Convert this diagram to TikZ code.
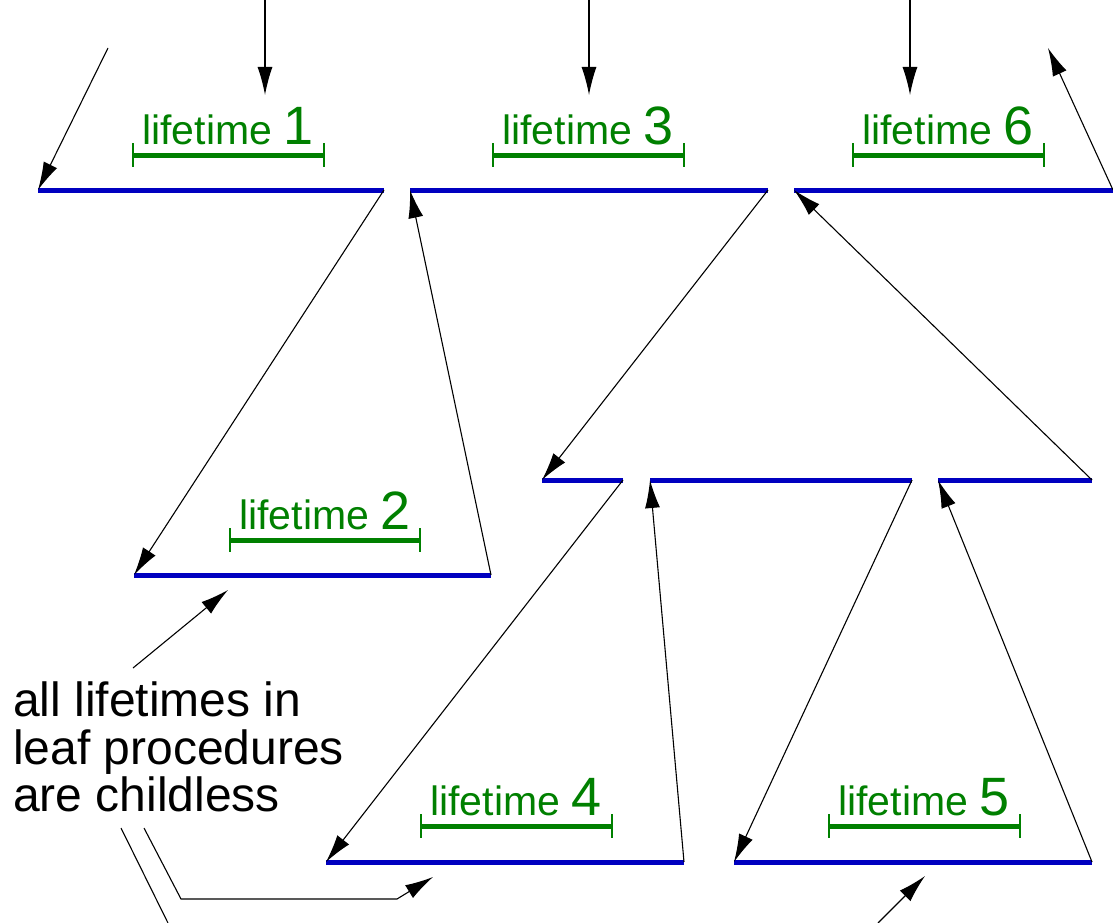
\documentclass[tikz,border=0pt]{standalone}
\usepackage{fontspec}
\setmainfont{Liberation Sans}
\usetikzlibrary{arrows.meta}
\definecolor{lblue}{RGB}{0,0,192}
\definecolor{lgreen}{RGB}{0,128,0}
\tikzset{
  life/.style={draw=lblue, line width=5pt},
  arr/.style={draw=black, line width=1.1pt, -{Latex[length=28pt,width=15pt]}},
  plain/.style={draw=black, line width=1.1pt},
  lbl/.style={text=lgreen, anchor=base, inner sep=0pt, font=\fontsize{41}{41}\selectfont},
}
\newcommand{\lt}[1]{lifetime {\fontsize{54}{54}\selectfont #1}}
\newcommand{\bracketbar}[3]{%
  \draw[lgreen, line width=5pt] (#1,#3) -- (#2,#3);
  \draw[lgreen, line width=2.5pt] (#1,#3-12) -- (#1,#3+12);
  \draw[lgreen, line width=2.5pt] (#2,#3-12) -- (#2,#3+12);}
\begin{document}
\begin{tikzpicture}[x=1pt,y=-1pt]
\useasboundingbox (0,0) rectangle (1113,923);
% lifetime line end points
\coordinate (l1a) at (38,190);  \coordinate (l1b) at (384,190);
\coordinate (l3a) at (410,190); \coordinate (l3b) at (768,190);
\coordinate (l6a) at (794,190); \coordinate (l6b) at (1113,190);
\coordinate (m1a) at (542,480); \coordinate (m1b) at (623,480);
\coordinate (m2a) at (650,480); \coordinate (m2b) at (912,480);
\coordinate (m3a) at (938,480); \coordinate (m3b) at (1092,480);
\coordinate (l2a) at (134,575); \coordinate (l2b) at (491,575);
\coordinate (l4a) at (326,862); \coordinate (l4b) at (684,862);
\coordinate (l5a) at (734,862); \coordinate (l5b) at (1092,862);
\foreach \a/\b in {l1a/l1b,l3a/l3b,l6a/l6b,m1a/m1b,m2a/m2b,m3a/m3b,l2a/l2b,l4a/l4b,l5a/l5b}
  \draw[life] (\a) -- (\b);
% green brackets and labels
\bracketbar{133}{324}{155}
\bracketbar{493}{684}{155}
\bracketbar{853}{1044}{155}
\bracketbar{230}{420}{540}
\bracketbar{421}{612}{826}
\bracketbar{829}{1020}{826}
\node[lbl] (t1) at (228,144) {\lt{1}};
\node[lbl] (t3) at (588,144) {\lt{3}};
\node[lbl] (t6) at (948,144) {\lt{6}};
\node[lbl] (t2) at (325,529) {\lt{2}};
\node[lbl] (t4) at (516,815) {\lt{4}};
\node[lbl] (t5) at (924,815) {\lt{5}};
% top arrows
\coordinate (s1) at (265,0);  \coordinate (e1) at (265,95);
\coordinate (s3) at (589,0);  \coordinate (e3) at (589,95);
\coordinate (s6) at (910,0);  \coordinate (e6) at (910,95);
\draw[arr] (s1) -- (e1);
\draw[arr] (s3) -- (e3);
\draw[arr] (s6) -- (e6);
\coordinate (in0) at (108,48);
\coordinate (out0) at (1048,48);
\draw[arr] (in0) -- (l1a);
\draw[arr] (l1b) -- (l2a);
\draw[arr] (l2b) -- (l3a);
\draw[arr] (l3b) -- (m1a);
\draw[arr] (m1b) -- (l4a);
\draw[arr] (l4b) -- (m2a);
\draw[arr] (m2b) -- (l5a);
\draw[arr] (l5b) -- (m3a);
\draw[arr] (m3b) -- (l6a);
\draw[arr] (l6b) -- (out0);
% annotation
\node[anchor=north west, inner sep=0pt, align=left,
      font=\fontsize{48}{47.5}\selectfont] (note) at (13,682)
  {all lifetimes in\\leaf procedures\\are childless};
\coordinate (n1) at (133,668); \coordinate (n1e) at (228,590);
\draw[arr] (n1) -- (n1e);
\coordinate (n2) at (121,828); \coordinate (n2e) at (168,923);
\draw[plain] (n2) -- (n2e);
\coordinate (n3) at (144,828); \coordinate (n3a) at (181,899);
\coordinate (n3b) at (397,899); \coordinate (n3e) at (433,877);
\draw[arr] (n3) -- (n3a) -- (n3b) -- (n3e);
\coordinate (n4) at (878,923); \coordinate (n4e) at (925,876);
\draw[arr] (n4) -- (n4e);
\end{tikzpicture}
\end{document}
